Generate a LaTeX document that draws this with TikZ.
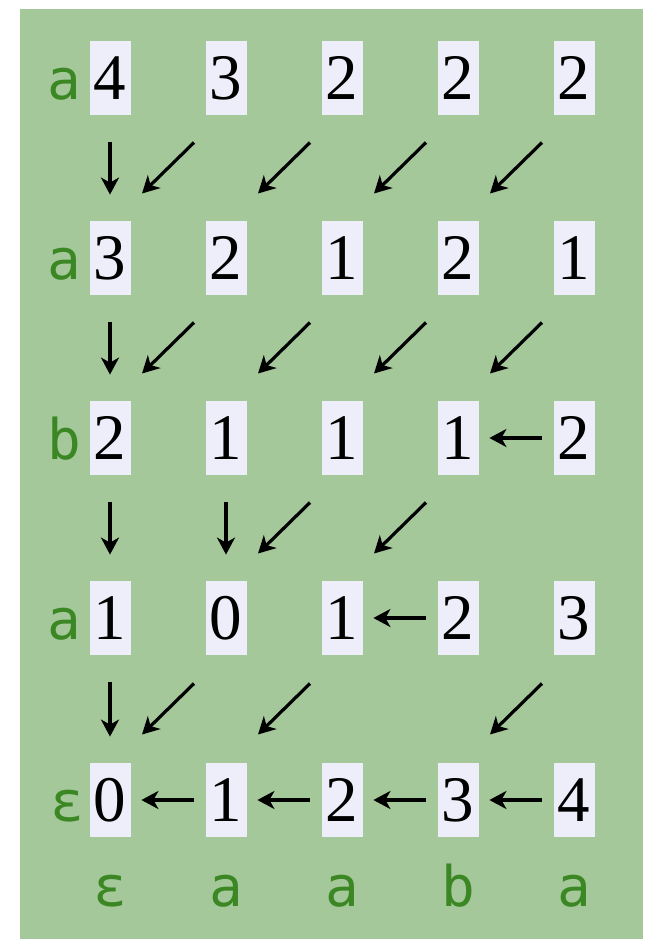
\documentclass[tikz,border=0pt]{standalone}
\usepackage{fontspec}
\setmainfont{Liberation Serif}
\newfontfamily\labfont{DejaVu Sans Mono}
\usetikzlibrary{arrows.meta,calc}

\definecolor{moss}{RGB}{165,200,155}
\definecolor{cellbg}{RGB}{238,238,250}
\definecolor{labgreen}{RGB}{58,135,35}

\tikzset{
  cell/.style={fill=cellbg, minimum width=20.5pt, minimum height=37pt, inner sep=0pt,
    font=\fontsize{32.5}{36}\selectfont},
  lab/.style={text=labgreen, inner sep=0pt, anchor=base,
    font=\labfont\fontsize{28}{30}\selectfont},
  arr/.style={line width=1.6pt, -{Stealth[length=8.5pt, width=9pt, inset=2.5pt]}},
  darr/.style={arr, shorten <=13.5pt, shorten >=13pt},
  harr/.style={arr, shorten <=5.75pt, shorten >=5.25pt}
}

\begin{document}
\begin{tikzpicture}[x=0.5pt, y=-0.5pt]
    \useasboundingbox (0,0) rectangle (654,939);
    \fill[moss] (20,9) rectangle (643,939);

    % Rows of the table
    \foreach \v [count=\c] in {4,3,2,2,2} \node[cell] (r1c\c) at ({110+116*(\c-1)}, 78) {\v};
    \foreach \v [count=\c] in {3,2,1,2,1} \node[cell] (r2c\c) at ({110+116*(\c-1)}, 258) {\v};
    \foreach \v [count=\c] in {2,1,1,1,2} \node[cell] (r3c\c) at ({110+116*(\c-1)}, 438) {\v};
    \foreach \v [count=\c] in {1,0,1,2,3} \node[cell] (r4c\c) at ({110+116*(\c-1)}, 618) {\v};
    \foreach \v [count=\c] in {0,1,2,3,4} \node[cell] (r5c\c) at ({110+116*(\c-1)}, 800) {\v};

    % Left labels (on the digits' base line)
    \node[lab] (la1) at (64, 99) {a};
    \node[lab] (la2) at (64, 279) {a};
    \node[lab] (la3) at (64, 459) {b};
    \node[lab] (la4) at (64, 639) {a};
    \node[lab] (la5) at (67, 821) {ε};

    % Bottom labels
    \foreach \t [count=\c] in {ε,a,a,b,a} \node[lab] (lb\c) at ({110+116*(\c-1)}, 906) {\t};

    % Down arrows
    \draw[darr] (r1c1) -- (r2c1);
    \draw[darr] (r2c1) -- (r3c1);
    \draw[darr] (r3c1) -- (r4c1);
    \draw[darr] (r3c2) -- (r4c2);
    \draw[darr] (r4c1) -- (r5c1);

    % Diagonal arrows
    \foreach \a/\b in {r1c2/r2c1, r1c3/r2c2, r1c4/r2c3, r1c5/r2c4,
                       r2c2/r3c1, r2c3/r3c2, r2c4/r3c3, r2c5/r3c4,
                       r3c3/r4c2, r3c4/r4c3,
                       r4c2/r5c1, r4c3/r5c2, r4c5/r5c4}
      \draw[arr] ($(\a)!0.5!(\b)+(26,-25.5)$) -- ($(\a)!0.5!(\b)+(-26,25.5)$);

    % Left arrows
    \draw[harr] (r3c5) -- (r3c4);
    \draw[harr] (r4c4) -- (r4c3);
    \draw[harr] (r5c2) -- (r5c1);
    \draw[harr] (r5c3) -- (r5c2);
    \draw[harr] (r5c4) -- (r5c3);
    \draw[harr] (r5c5) -- (r5c4);
\end{tikzpicture}
\end{document}
